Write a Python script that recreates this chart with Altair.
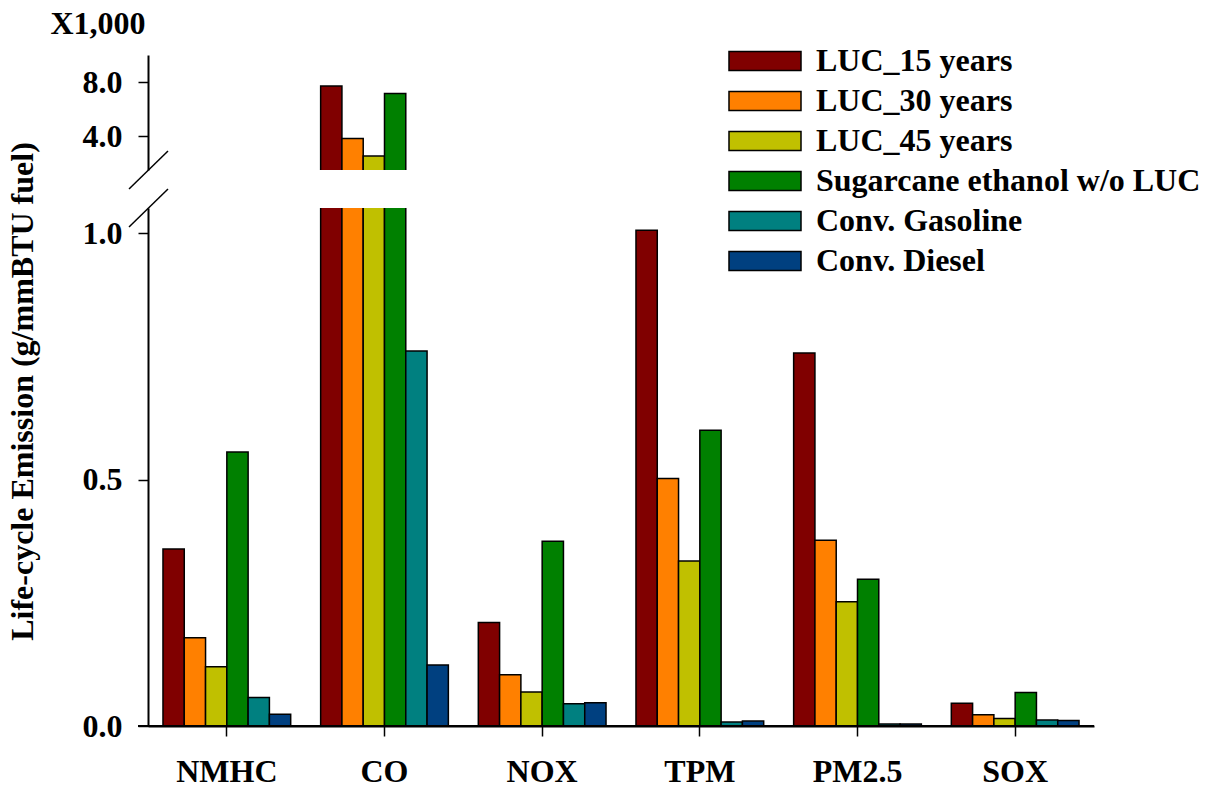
import altair as alt
import pandas as pd

# Emission categories and fuel pathways
pollutants = ["NMHC", "CO", "NOX", "TPM", "PM2.5", "SOX"]
series = ["LUC_15 years", "LUC_30 years", "LUC_45 years",
          "Sugarcane ethanol w/o LUC", "Conv. Gasoline", "Conv. Diesel"]
colors = ["#800000", "#FF8000", "#C0C000", "#008000", "#008080", "#004080"]

# Life-cycle emissions, g/mmBTU fuel (one list per pollutant, in series order)
nmhc = [0.359, 0.179, 0.120, 0.556, 0.058, 0.024]
co = [7710, 3830, 2530, 7150, 0.761, 0.124]
nox = [0.210, 0.104, 0.069, 0.375, 0.045, 0.047]
tpm = [1.006, 0.502, 0.335, 0.600, 0.008, 0.010]
pm25 = [0.757, 0.377, 0.252, 0.298, 0.004, 0.004]
sox = [0.046, 0.023, 0.015, 0.068, 0.012, 0.011]

lower_ticks = [0.0, 0.5, 1.0]
upper_ticks = [4.0, 8.0]

rows = []
for p, vals in zip(pollutants, [nmhc, co, nox, tpm, pm25, sox]):
    for s, v in zip(series, vals):
        rows.append({"pollutant": p, "series": s, "value": v})
df = pd.DataFrame(rows)

FONT = "Liberation Serif"
FS = 32
W = 946
H_UP = 115
H_LO = 518

x_scale = alt.Scale(domain=pollutants, paddingInner=0.19, paddingOuter=0.095)
off_enc = alt.XOffset("series:N", sort=series,
                      scale=alt.Scale(domain=series, paddingInner=0, paddingOuter=0))

axis_style = dict(
    domainColor="black", domainWidth=2, tickColor="black", tickWidth=1.5,
    tickSize=10, labelFont=FONT, labelFontSize=FS, labelFontWeight="bold",
    labelColor="black", grid=False,
)

legend = alt.Legend(
    title=None, orient="none", legendX=601, legendY=-10,
    symbolType="M-3.79,-1L3.79,-1L3.79,1L-3.79,1Z", symbolSize=361,
    symbolStrokeColor="black", symbolStrokeWidth=1.5, symbolOpacity=1,
    labelFont=FONT, labelFontSize=FS, labelFontWeight="bold", labelColor="black",
    labelOffset=35, rowPadding=8, labelLimit=0,
)

bar_style = dict(stroke="black", strokeWidth=1.5, clip=True)

# Upper segment: values above the break, in thousands
upper_bars = (
    alt.Chart(df)
    .transform_filter("datum.value > 1000")
    .transform_calculate(k="datum.value / 1000")
    .mark_bar(**bar_style)
    .encode(
        x=alt.X("pollutant:N", sort=pollutants, scale=x_scale, axis=None),
        xOffset=off_enc,
        y=alt.Y("k:Q", scale=alt.Scale(domain=[1.5, 10], zero=False, nice=False),
                axis=alt.Axis(values=upper_ticks, format=".1f", title="X1,000",
                              titleAngle=0, titleAlign="left", titleBaseline="alphabetic",
                              titleX=-98, titleY=-22, titleFont=FONT, titleFontSize=FS,
                              titleFontWeight="bold", titleColor="black",
                              labelPadding=16, **axis_style)),
        color=alt.Color("series:N", sort=series,
                        scale=alt.Scale(domain=series, range=colors), legend=legend),
    )
)

upper_break = alt.Chart(pd.DataFrame({"a": [0]})).mark_rule(
    clip=False, color="black", strokeWidth=1.5
).encode(x=alt.value(-19), y=alt.value(134), x2=alt.value(20), y2=alt.value(96))

upper = alt.layer(upper_bars, upper_break).properties(
    width=W, height=H_UP, view=alt.ViewBackground(strokeWidth=0, stroke="transparent"))

# Lower segment: full range below the break
lower_bars = (
    alt.Chart(df)
    .mark_bar(**bar_style)
    .encode(
        x=alt.X("pollutant:N", sort=pollutants, scale=x_scale,
                axis=alt.Axis(title=None, labelAngle=0, labelPadding=20, **axis_style)),
        xOffset=off_enc,
        y=alt.Y("value:Q", scale=alt.Scale(domain=[0, 1.051], nice=False),
                axis=alt.Axis(values=lower_ticks, format=".1f",
                              title="Life-cycle Emission (g/mmBTU fuel)",
                              titleX=-116, titleY=183, titleAngle=-90,
                              titleAlign="center", titleBaseline="alphabetic",
                              titleFont=FONT, titleFontSize=FS, titleFontWeight="bold",
                              titleColor="black", labelPadding=16, **axis_style)),
        color=alt.Color("series:N", sort=series,
                        scale=alt.Scale(domain=series, range=colors), legend=legend),
    )
)

baseline = alt.Chart(pd.DataFrame({"y": [0]})).mark_rule(
    clip=False, color="black", strokeWidth=2
).encode(y="y:Q", x=alt.value(-10), x2=alt.value(W))

lower_break = alt.Chart(pd.DataFrame({"a": [0]})).mark_rule(
    clip=False, color="black", strokeWidth=1.5
).encode(x=alt.value(-19), y=alt.value(19), x2=alt.value(20), y2=alt.value(-19))

lower = alt.layer(lower_bars, baseline, lower_break).properties(
    width=W, height=H_LO, view=alt.ViewBackground(strokeWidth=0, stroke="transparent"))

chart = (
    alt.vconcat(upper, lower, spacing=38, bounds="flush")
    .resolve_scale(color="shared")
    .resolve_legend(color="shared")
    .properties(padding={"left": 5, "top": 7, "right": 5, "bottom": 5})
    .configure_view(strokeWidth=0, stroke="transparent")
    .configure(background="white")
)

chart.save("out.html", embed_options={"renderer": "svg", "actions": False})
